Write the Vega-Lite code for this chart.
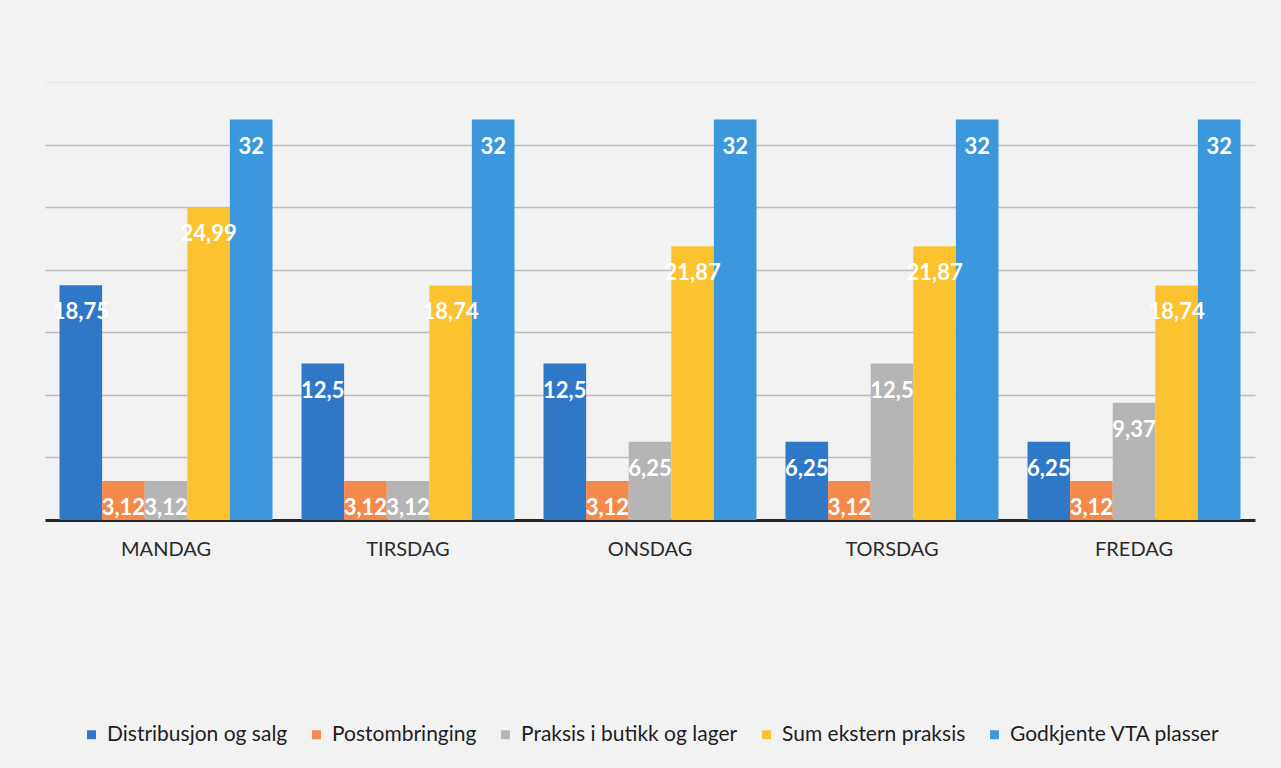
{
  "$schema": "https://vega.github.io/schema/vega-lite/v6.json",
  "width": 1210,
  "height": 438,
  "autosize": "none",
  "padding": {"left": 45, "top": 82, "right": 26, "bottom": 248},
  "background": "#f2f2f3",
  "config": {
    "view": {"stroke": null},
    "font": "Lato",
    "locale": {"number": {"decimal": ",", "thousands": " ", "grouping": [3], "currency": ["", " kr"]}}
  },
  "data": {
    "values": [
      {"dag": "MANDAG", "serie": "Distribusjon og salg", "verdi": 18.75},
      {"dag": "MANDAG", "serie": "Postombringing", "verdi": 3.12},
      {"dag": "MANDAG", "serie": "Praksis i butikk og lager", "verdi": 3.12},
      {"dag": "MANDAG", "serie": "Sum ekstern praksis", "verdi": 24.99},
      {"dag": "MANDAG", "serie": "Godkjente VTA plasser", "verdi": 32},
      {"dag": "TIRSDAG", "serie": "Distribusjon og salg", "verdi": 12.5},
      {"dag": "TIRSDAG", "serie": "Postombringing", "verdi": 3.12},
      {"dag": "TIRSDAG", "serie": "Praksis i butikk og lager", "verdi": 3.12},
      {"dag": "TIRSDAG", "serie": "Sum ekstern praksis", "verdi": 18.74},
      {"dag": "TIRSDAG", "serie": "Godkjente VTA plasser", "verdi": 32},
      {"dag": "ONSDAG", "serie": "Distribusjon og salg", "verdi": 12.5},
      {"dag": "ONSDAG", "serie": "Postombringing", "verdi": 3.12},
      {"dag": "ONSDAG", "serie": "Praksis i butikk og lager", "verdi": 6.25},
      {"dag": "ONSDAG", "serie": "Sum ekstern praksis", "verdi": 21.87},
      {"dag": "ONSDAG", "serie": "Godkjente VTA plasser", "verdi": 32},
      {"dag": "TORSDAG", "serie": "Distribusjon og salg", "verdi": 6.25},
      {"dag": "TORSDAG", "serie": "Postombringing", "verdi": 3.12},
      {"dag": "TORSDAG", "serie": "Praksis i butikk og lager", "verdi": 12.5},
      {"dag": "TORSDAG", "serie": "Sum ekstern praksis", "verdi": 21.87},
      {"dag": "TORSDAG", "serie": "Godkjente VTA plasser", "verdi": 32},
      {"dag": "FREDAG", "serie": "Distribusjon og salg", "verdi": 6.25},
      {"dag": "FREDAG", "serie": "Postombringing", "verdi": 3.12},
      {"dag": "FREDAG", "serie": "Praksis i butikk og lager", "verdi": 9.37},
      {"dag": "FREDAG", "serie": "Sum ekstern praksis", "verdi": 18.74},
      {"dag": "FREDAG", "serie": "Godkjente VTA plasser", "verdi": 32}
    ]
  },
  "encoding": {
    "x": {
      "field": "dag", "type": "nominal",
      "sort": ["MANDAG", "TIRSDAG", "ONSDAG", "TORSDAG", "FREDAG"],
      "scale": {"paddingInner": 0.12, "paddingOuter": 0.06},
      "axis": {"title": null, "labelAngle": 0, "labelFontSize": 20, "labelColor": "#2a2a2a", "labelPadding": 19, "ticks": false, "domainColor": "#262626", "domainWidth": 3, "grid": false}
    },
    "xOffset": {
      "field": "serie", "type": "nominal",
      "sort": ["Distribusjon og salg", "Postombringing", "Praksis i butikk og lager", "Sum ekstern praksis", "Godkjente VTA plasser"],
      "scale": {"paddingInner": 0, "paddingOuter": 0}
    },
    "y": {
      "field": "verdi", "type": "quantitative",
      "scale": {"domain": [0, 35]},
      "axis": {"title": null, "labels": false, "ticks": false, "domain": false, "values": [5, 10, 15, 20, 25, 30, 35],
        "gridColor": {"condition": {"test": "datum.value === 35", "value": "#e6e6e8"}, "value": "#bdbdbd"},
        "gridWidth": 1.5}
    }
  },
  "layer": [
    {
      "mark": {"type": "bar"},
      "encoding": {
        "color": {
          "field": "serie", "type": "nominal",
          "scale": {
            "domain": ["Distribusjon og salg", "Postombringing", "Praksis i butikk og lager", "Sum ekstern praksis", "Godkjente VTA plasser"],
            "range": ["#2f78c8", "#f5894c", "#b5b5b5", "#fcc22f", "#3c98dc"]
          },
          "legend": {
            "title": null, "orient": "none", "direction": "horizontal", "columns": 5,
            "legendX": 36, "legendY": 642,
            "symbolType": "square", "symbolSize": 80, "labelFontSize": 21, "labelColor": "#1e1e1e",
            "labelLimit": 400, "columnPadding": 18, "symbolOffset": 0, "labelOffset": 5
          }
        }
      }
    },
    {
      "mark": {"type": "text", "baseline": "middle", "dy": 27, "color": "white", "fontWeight": "bold", "fontSize": 22},
      "encoding": {
        "text": {"field": "verdi", "type": "quantitative", "format": ".4~r"}
      }
    }
  ]
}
